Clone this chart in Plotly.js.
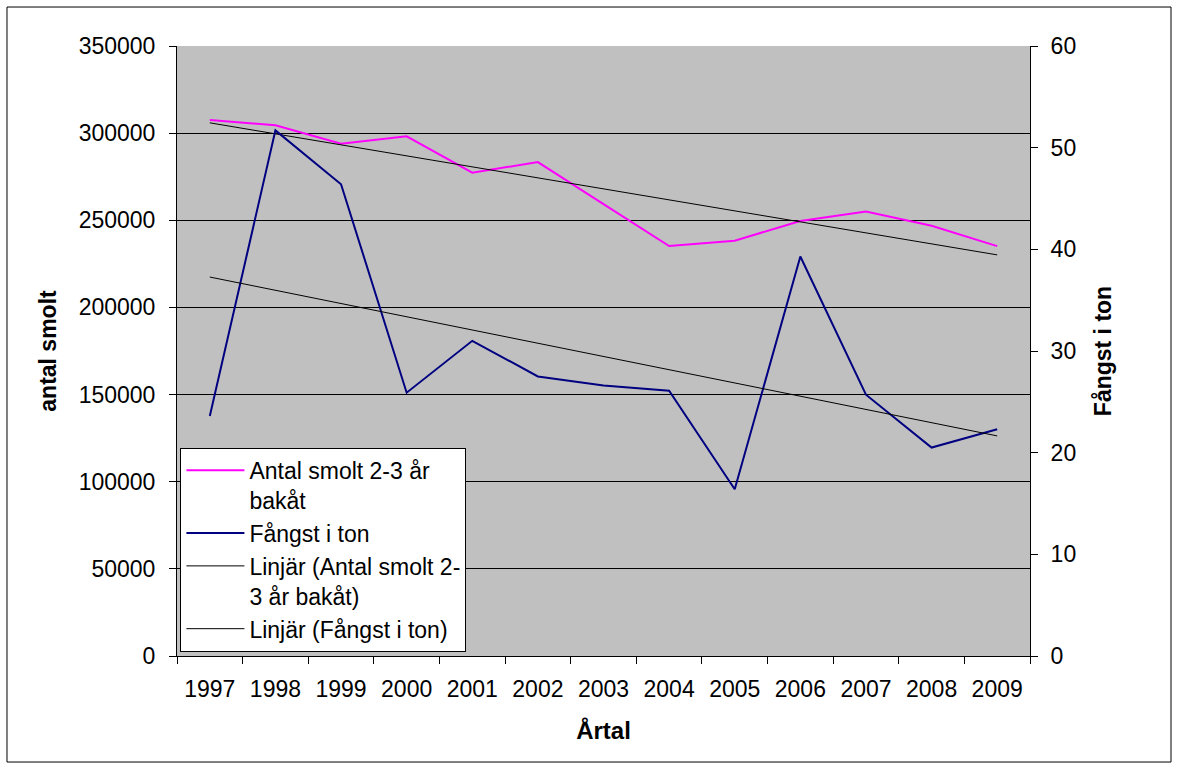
<!DOCTYPE html>
<html>
<head>
<meta charset="utf-8">
<script src="https://cdn.plot.ly/plotly-3.0.1.min.js"></script>
<style>
  html, body { margin: 0; padding: 0; background: #ffffff; }
  #chart { width: 1178px; height: 769px; }
</style>
</head>
<body>
<div id="chart"></div>
<script>
// Years on the category axis
const years = ['1997', '1998', '1999', '2000', '2001', '2002', '2003',
               '2004', '2005', '2006', '2007', '2008', '2009'];

// Number of smolt 2-3 years back (left axis)
const smolt = [307500, 304500, 293900, 298200, 277300, 283400, 259300,
               235200, 238300, 249600, 255100, 246900, 235200];

// Catch in tonnes (right axis)
const fangst = [23.6, 51.7, 46.4, 25.9, 31.0, 27.5, 26.6,
                26.1, 16.4, 39.3, 25.7, 20.5, 22.3];

// Least-squares linear trend over the category index
function linearTrend(values) {
  const n = values.length;
  let sx = 0, sy = 0, sxx = 0, sxy = 0;
  values.forEach((v, i) => { sx += i; sy += v; sxx += i * i; sxy += i * v; });
  const slope = (n * sxy - sx * sy) / (n * sxx - sx * sx);
  const icpt = (sy - slope * sx) / n;
  return values.map((_, i) => icpt + slope * i);
}

const FONT = 'Liberation Sans, Arial, sans-serif';

const traces = [
  {
    x: years, y: smolt, type: 'scatter', mode: 'lines',
    name: 'Antal smolt 2-3 år<br>bakåt',
    line: { color: '#FF00FF', width: 2 }, yaxis: 'y'
  },
  {
    x: years, y: fangst, type: 'scatter', mode: 'lines',
    name: 'Fångst i ton',
    line: { color: '#000080', width: 2 }, yaxis: 'y2'
  },
  {
    x: years, y: linearTrend(smolt), type: 'scatter', mode: 'lines',
    name: 'Linjär (Antal smolt 2-<br>3 år bakåt)',
    line: { color: '#000000', width: 1 }, yaxis: 'y'
  },
  {
    x: years, y: linearTrend(fangst), type: 'scatter', mode: 'lines',
    name: 'Linjär (Fångst i ton)',
    line: { color: '#000000', width: 1 }, yaxis: 'y2'
  }
];

const layout = {
  width: 1178, height: 769,
  margin: { l: 177, r: 148, t: 46, b: 113 },
  paper_bgcolor: '#ffffff',
  plot_bgcolor: '#C0C0C0',
  font: { family: FONT, color: '#000000' },
  showlegend: true,
  legend: {
    x: 0.004, y: 0.007, xanchor: 'left', yanchor: 'bottom',
    bgcolor: '#ffffff', bordercolor: '#000000', borderwidth: 1,
    font: { family: FONT, size: 23, color: '#000000' },
    valign: 'top', tracegroupgap: 0, itemwidth: 58
  },
  xaxis: {
    type: 'category', range: [-0.5, 12.5],
    showline: true, linecolor: '#000000', linewidth: 1,
    ticks: 'outside', tickson: 'boundaries', ticklen: 7, tickcolor: '#000000',
    ticklabelstandoff: 12,
    showgrid: false, zeroline: false,
    tickfont: { family: FONT, size: 23, color: '#000000' },
    title: { text: '<b>Årtal</b>', font: { family: FONT, size: 24 }, standoff: 21 }
  },
  yaxis: {
    range: [0, 350000], dtick: 50000, tick0: 0,
    showline: true, linecolor: '#000000', linewidth: 1,
    ticks: 'outside', ticklen: 7, tickcolor: '#000000',
    ticklabelstandoff: 9,
    showgrid: true, gridcolor: '#000000', gridwidth: 1, zeroline: false,
    tickformat: 'd',
    tickfont: { family: FONT, size: 23, color: '#000000' },
    title: { text: '<b>antal smolt</b>', font: { family: FONT, size: 23 }, standoff: 15 }
  },
  yaxis2: {
    overlaying: 'y', side: 'right',
    range: [0, 60], dtick: 10, tick0: 0,
    showline: true, linecolor: '#000000', linewidth: 1,
    ticks: 'outside', ticklen: 7, tickcolor: '#000000',
    ticklabelstandoff: 8,
    showgrid: false, zeroline: false,
    tickfont: { family: FONT, size: 23, color: '#000000' },
    title: { text: '<b>Fångst i ton</b>', font: { family: FONT, size: 23 }, standoff: 19 }
  },
  shapes: [
    {
      type: 'rect', xref: 'paper', yref: 'paper',
      x0: -0.1993, x1: 1.1653, y0: -0.1738, y1: 1.0639,
      line: { color: '#000000', width: 1 }, fillcolor: 'rgba(0,0,0,0)', layer: 'below'
    }
  ]
};

Plotly.newPlot('chart', traces, layout, { displayModeBar: false, staticPlot: true });
</script>
</body>
</html>
